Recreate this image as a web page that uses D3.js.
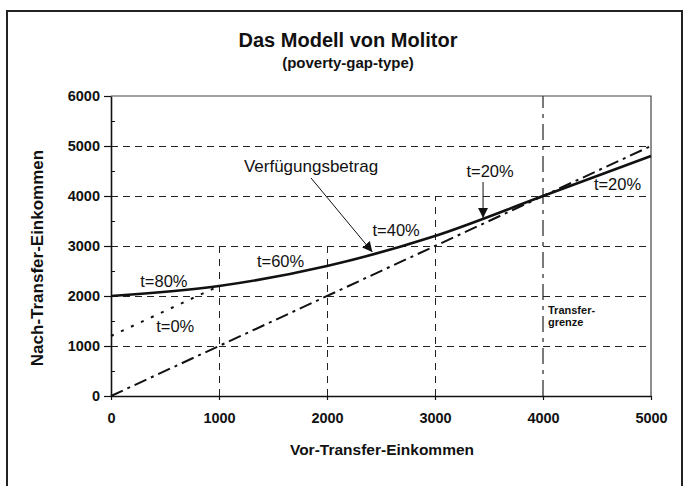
<!DOCTYPE html>
<html>
<head>
<meta charset="utf-8">
<script src="https://cdn.jsdelivr.net/npm/d3@7"></script>
<style>
  body { margin: 0; background: #fff; }
  svg { display: block; font-family: Arial, "Liberation Sans", sans-serif; }
</style>
</head>
<body>
<svg id="chart" width="684" height="486"></svg>
<script>
// data
var xTicks = [0, 1000, 2000, 3000, 4000, 5000];
var yTicks = [0, 1000, 2000, 3000, 4000, 5000, 6000];
var yMinor = [500, 1500, 2500, 3500, 4500, 5500];

// Verfuegungsbetrag (after transfer)
var vorEink = [0, 1000, 2000, 3000, 4000, 5000];
var nachEink = [2000, 2200, 2600, 3200, 4000, 4800];

// 45 degree line (no transfer)
var diagX = [0, 5000];
var diagY = [0, 5000];

// t=0% line
var nullX = [0, 1000];
var nullY = [1200, 2200];

// grid: horizontal lines and how high the vertical ones go
var hGrid = [1000, 2000, 3000, 4000, 5000];
var vGridX = [1000, 2000, 3000];
var vGridTop = [3000, 3000, 4000];
var transferGrenze = 4000;

// rate labels: x value, y value
var rateLabels = [
  { text: "t=80%", x: 490, y: 2180 },
  { text: "t=60%", x: 1570, y: 2580 },
  { text: "t=40%", x: 2640, y: 3200 },
  { text: "t=20%", x: 3510, y: 4380 },
  { text: "t=20%", x: 4690, y: 4120 },
  { text: "t=0%", x: 595, y: 1280 }
];

var svg = d3.select("#chart");

var margin = { left: 111, right: 651, top: 96, bottom: 396 };

var xScale = d3.scaleLinear()
    .domain([0, 5000])
    .range([margin.left, margin.right]);

var yScale = d3.scaleLinear()
    .domain([0, 6000])
    .range([margin.bottom, margin.top]);

var defs = svg.append("defs");
defs.append("marker")
    .attr("id", "head")
    .attr("viewBox", "0 0 10 10")
    .attr("refX", 10)
    .attr("refY", 5)
    .attr("markerWidth", 10)
    .attr("markerHeight", 10)
    .attr("markerUnits", "userSpaceOnUse")
    .attr("orient", "auto")
    .append("path")
    .attr("d", "M0,0 L10,5 L0,10 Z")
    .attr("fill", "#111");

// outer frame (bottom is cut off in the scan)
svg.append("path")
    .attr("d", "M7,486 L7,11 L682,11 L682,486")
    .attr("fill", "none")
    .attr("stroke", "#222")
    .attr("stroke-width", 2);

// title
svg.append("text")
    .attr("x", 348)
    .attr("y", 47)
    .attr("text-anchor", "middle")
    .style("font-size", "20px")
    .style("font-weight", "bold")
    .attr("fill", "#111")
    .text("Das Modell von Molitor");

svg.append("text")
    .attr("x", 348)
    .attr("y", 68)
    .attr("text-anchor", "middle")
    .style("font-size", "15px")
    .style("font-weight", "bold")
    .attr("fill", "#111")
    .text("(poverty-gap-type)");

// horizontal grid
svg.append("g")
    .selectAll("line")
    .data(hGrid)
    .enter()
    .append("line")
    .attr("x1", xScale(0))
    .attr("x2", xScale(5000))
    .attr("y1", d => yScale(d) + 0.5)
    .attr("y2", d => yScale(d) + 0.5)
    .attr("stroke", "#222")
    .attr("stroke-width", 1)
    .attr("stroke-dasharray", "7,5");

// vertical grid
svg.append("g")
    .selectAll("line")
    .data(vGridX)
    .enter()
    .append("line")
    .attr("x1", d => Math.round(xScale(d)) + 0.5)
    .attr("x2", d => Math.round(xScale(d)) + 0.5)
    .attr("y1", yScale(0))
    .attr("y2", (d, i) => yScale(vGridTop[i]))
    .attr("stroke", "#222")
    .attr("stroke-width", 1)
    .attr("stroke-dasharray", "7,6");

// Transfergrenze
svg.append("line")
    .attr("x1", xScale(transferGrenze))
    .attr("x2", xScale(transferGrenze))
    .attr("y1", yScale(0))
    .attr("y2", yScale(6000))
    .attr("stroke", "#222")
    .attr("stroke-width", 1.2)
    .attr("stroke-dasharray", "16,6,4,6");

// plot border top and right
svg.append("path")
    .attr("d", "M" + xScale(0) + "," + yScale(6000) + " L" + xScale(5000) + "," + yScale(6000) + " L" + xScale(5000) + "," + yScale(0))
    .attr("fill", "none")
    .attr("stroke", "#444")
    .attr("stroke-width", 1.2);

// axes
var yAxis = svg.append("g")
    .attr("transform", `translate(${margin.left},0)`)
    .call(d3.axisLeft(yScale).tickValues(yTicks).tickFormat(d3.format("d"))
        .tickSize(7).tickPadding(4).tickSizeOuter(0));

var yMinorAxis = svg.append("g")
    .attr("transform", `translate(${margin.left},0)`)
    .call(d3.axisLeft(yScale).tickValues(yMinor).tickSize(-4).tickFormat("").tickSizeOuter(0));
yMinorAxis.select(".domain").remove();

var xAxis = svg.append("g")
    .attr("transform", `translate(0,${margin.bottom})`)
    .call(d3.axisBottom(xScale).tickValues(xTicks).tickFormat(d3.format("d"))
        .tickSize(4).tickPadding(13).tickSizeOuter(0));

[yAxis, xAxis].forEach(function(ax) {
    ax.select(".domain").attr("stroke", "#111").attr("stroke-width", 1.6);
    ax.selectAll(".tick line").attr("stroke", "#111").attr("stroke-width", 1.2);
    ax.selectAll("text")
        .style("font-size", "14.5px")
        .style("font-weight", "bold")
        .style("font-family", "Arial, 'Liberation Sans', sans-serif")
        .attr("fill", "#111");
});
yMinorAxis.selectAll(".tick line").attr("stroke", "#111");

// axis titles
svg.append("text")
    .attr("x", 382)
    .attr("y", 455)
    .attr("text-anchor", "middle")
    .style("font-size", "15.5px")
    .style("font-weight", "bold")
    .attr("fill", "#111")
    .text("Vor-Transfer-Einkommen");

svg.append("text")
    .attr("transform", "translate(43,258)rotate(-90)")
    .attr("text-anchor", "middle")
    .style("font-size", "17px")
    .style("font-weight", "bold")
    .attr("fill", "#111")
    .text("Nach-Transfer-Einkommen");

// lines
var diagData = diagX.map((d, i) => [d, diagY[i]]);
var nullData = nullX.map((d, i) => [d, nullY[i]]);
var curveData = vorEink.map((d, i) => [d, nachEink[i]]);

var line = d3.line()
    .x(d => xScale(d[0]))
    .y(d => yScale(d[1]));

svg.append("path")
    .datum(diagData)
    .attr("d", line)
    .attr("fill", "none")
    .attr("stroke", "#111")
    .attr("stroke-width", 2)
    .attr("stroke-dasharray", "13,5,3,5");

svg.append("path")
    .datum(nullData)
    .attr("d", line)
    .attr("fill", "none")
    .attr("stroke", "#111")
    .attr("stroke-width", 2)
    .attr("stroke-dasharray", "3,8");

svg.append("path")
    .datum(curveData)
    .attr("d", line.curve(d3.curveMonotoneX))
    .attr("fill", "none")
    .attr("stroke", "#111")
    .attr("stroke-width", 2.6);

// rate labels
svg.append("g")
    .selectAll("text")
    .data(rateLabels)
    .enter()
    .append("text")
    .attr("x", d => xScale(d.x))
    .attr("y", d => yScale(d.y))
    .attr("text-anchor", "middle")
    .style("font-size", "16.5px")
    .attr("fill", "#111")
    .text(d => d.text);

// Verfuegungsbetrag label and arrow
svg.append("text")
    .attr("x", xScale(1852))
    .attr("y", yScale(4480))
    .attr("text-anchor", "middle")
    .style("font-size", "17px")
    .attr("fill", "#111")
    .text("Verfügungsbetrag");

svg.append("line")
    .attr("x1", xScale(1852))
    .attr("y1", yScale(4360))
    .attr("x2", xScale(2420))
    .attr("y2", yScale(2880))
    .attr("stroke", "#111")
    .attr("stroke-width", 1)
    .attr("marker-end", "url(#head)");

// t=20% arrow
svg.append("line")
    .attr("x1", xScale(3445))
    .attr("y1", yScale(4280))
    .attr("x2", xScale(3445))
    .attr("y2", yScale(3560))
    .attr("stroke", "#111")
    .attr("stroke-width", 1)
    .attr("marker-end", "url(#head)");

// Transfergrenze label
var tg = svg.append("text")
    .attr("x", xScale(transferGrenze) + 5)
    .attr("y", yScale(1640))
    .style("font-size", "11px")
    .style("font-weight", "bold")
    .attr("fill", "#111");
tg.append("tspan").attr("x", xScale(transferGrenze) + 5).text("Transfer-");
tg.append("tspan").attr("x", xScale(transferGrenze) + 5).attr("dy", 12).text("grenze");
</script>
</body>
</html>
